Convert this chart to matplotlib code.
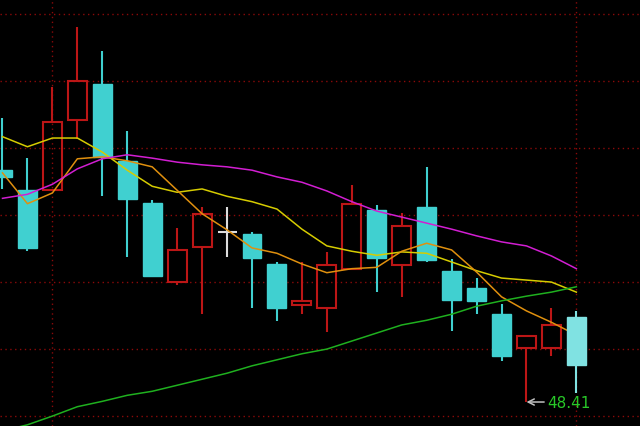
import numpy as np
import matplotlib
matplotlib.use("Agg")
import matplotlib.pyplot as plt
from matplotlib.patches import Rectangle

# ------------------------------------------------------------
# Data
# ------------------------------------------------------------
opens = [51.87, 51.57, 51.57, 52.62, 53.16, 52.01, 51.38, 50.20, 50.72, 50.95, 50.92, 50.47,
         49.86, 49.81, 50.40, 51.28, 50.46, 51.32, 50.37, 50.11, 49.72, 49.22, 49.22, 49.68]
highs = [52.65, 52.05, 53.11, 54.01, 53.65, 52.46, 51.42, 51.01, 51.32, 51.32, 50.95, 50.50,
         50.50, 50.65, 51.65, 51.35, 51.23, 51.92, 50.54, 50.26, 49.87, 49.40, 49.81, 49.77]
lows = [51.59, 50.66, 51.57, 52.34, 51.48, 50.57, 50.28, 50.16, 49.72, 50.57, 49.81, 49.62,
        49.72, 49.46, 50.40, 50.05, 49.98, 50.50, 49.47, 49.72, 49.02, 48.41, 49.10, 48.54]
closes = [51.77, 50.71, 52.59, 53.20, 52.07, 51.44, 50.29, 50.68, 51.22, 50.95, 50.56, 49.81,
          49.92, 50.46, 51.37, 50.56, 51.04, 50.53, 49.93, 49.92, 49.10, 49.40, 49.56, 48.96]

ma5 = [51.83, 51.37, 51.53, 52.04, 52.07, 52.01, 51.92, 51.57, 51.22, 50.98, 50.71, 50.63,
       50.47, 50.34, 50.40, 50.42, 50.66, 50.78, 50.68, 50.35, 49.98, 49.77, 49.60, 49.41]
ma10 = [52.37, 52.22, 52.35, 52.35, 52.14, 51.87, 51.63, 51.54, 51.59, 51.48, 51.40, 51.29,
        50.99, 50.74, 50.66, 50.60, 50.65, 50.63, 50.50, 50.37, 50.26, 50.23, 50.20, 50.05]
ma20 = [51.45, 51.51, 51.66, 51.89, 52.04, 52.10, 52.05, 51.99, 51.95, 51.92, 51.87, 51.77,
        51.69, 51.56, 51.40, 51.26, 51.17, 51.08, 50.99, 50.89, 50.80, 50.74, 50.59, 50.40]
ma60 = [47.98, 48.07, 48.20, 48.34, 48.42, 48.51, 48.57, 48.66, 48.75, 48.84, 48.95, 49.04,
        49.13, 49.20, 49.32, 49.44, 49.56, 49.63, 49.72, 49.84, 49.92, 49.99, 50.05, 50.13]

low_label = "48.41"
low_index = 21

# ------------------------------------------------------------
# Styles
# ------------------------------------------------------------
BG = "black"
UP = "#bc1616"
DOWN = "#40d0d0"
LAST = "#80e2e2"
DOJI = "#dcdcdc"
GRID = "#8a0a0a"

fig = plt.figure(figsize=(6.4, 4.27), dpi=100)
fig.patch.set_facecolor(BG)
ax = fig.add_axes([0, 0, 1, 1])
ax.set_facecolor(BG)

x = np.arange(len(opens))
body_w = 0.76

# grid
for gy in np.arange(48.2, 54.3, 1.0):
    ax.axhline(gy, color=GRID, lw=1, ls=(0, (1, 2.5)), zorder=0)
for gx in [2, 23]:
    ax.axvline(gx, color=GRID, lw=1, ls=(0, (1, 2.5)), zorder=0)

# candles
for i in x:
    o, h, l, c = opens[i], highs[i], lows[i], closes[i]
    last = i == len(opens) - 1
    z = 5 if last else 2
    if abs(c - o) < 1e-9:
        ax.vlines(i, l, h, color=DOJI, lw=1.5, zorder=z)
        ax.hlines(o, i - body_w / 2, i + body_w / 2, color=DOJI, lw=1.5, zorder=z)
    elif c > o:
        ax.vlines(i, l, o, color=UP, lw=1.5, zorder=z)
        ax.vlines(i, c, h, color=UP, lw=1.5, zorder=z)
        ax.add_patch(Rectangle((i - body_w / 2, o), body_w, c - o,
                               facecolor="none", edgecolor=UP, lw=1.5, zorder=z))
    else:
        col = LAST if last else DOWN
        ax.vlines(i, l, h, color=col, lw=1.5, zorder=z)
        ax.add_patch(Rectangle((i - body_w / 2, c), body_w, o - c,
                               facecolor=col, edgecolor=col, lw=1, zorder=z))

# moving averages
ax.plot(x, ma10, color="#d6cc00", lw=1.1, zorder=4)
ax.plot(x, ma5, color="#e0900e", lw=1.1, zorder=4)
ax.plot(x, ma20, color="#d21ed2", lw=1.1, zorder=4)
ax.plot(x, ma60, color="#1fb01f", lw=1.1, zorder=4)

# lowest price marker
ax.annotate(low_label, xy=(low_index, lows[low_index]),
            xytext=(low_index + 0.82, lows[low_index]),
            color="#28c828", fontsize=11, va="center", ha="left",
            arrowprops=dict(arrowstyle="->", color="#c0c0c0", lw=1.1,
                            shrinkA=0, shrinkB=0), zorder=6)

ax.set_xlim(-0.1, 25.55)
ax.set_ylim(48.052, 54.425)
ax.axis("off")

fig.savefig("out.png", dpi=100, facecolor=BG)
